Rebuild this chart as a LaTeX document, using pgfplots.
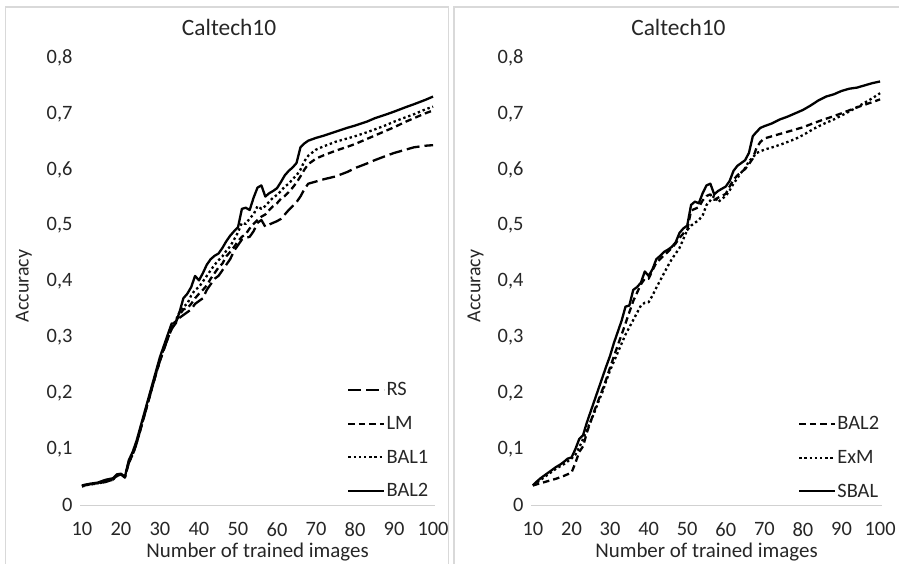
\documentclass[border=0pt]{standalone}
\usepackage{fontspec}
\setmainfont{Carlito}
\usepackage{pgfplots}
\pgfplotsset{compat=1.18}

\pgfplotsset{
  accstyle/.style={
    scale only axis, height=447bp,
    xmin=9.5, xmax=100.5, ymin=0, ymax=0.8,
    axis lines*=left,
    x axis line style={draw=black!18, line width=1bp},
    y axis line style={draw=none},
    major tick length=0pt,
    xtick={10,20,...,100},
    ytick={0,0.1,...,0.8},
    yticklabels={0,{0,1},{0,2},{0,3},{0,4},{0,5},{0,6},{0,7},{0,8}},
    /pgf/number format/assume math mode=true,
    tick label style={font=\fontsize{20.5}{24}\selectfont, text=black!85},
    xticklabel style={yshift=-14bp},
    yticklabel style={xshift=-4bp},
    title={Caltech10},
    title style={font=\fontsize{23.5}{27}\selectfont, text=black!85, anchor=center, at={(0.42,1.056)}},
    xlabel={Number of trained images},
    xlabel style={font=\fontsize{21}{25}\selectfont, text=black!85, anchor=center, at={(0.5,-0.105)}},
    ylabel={Accuracy},
    ylabel style={font=\fontsize{20}{24}\selectfont, text=black!85, anchor=center, at={(-0.158,0.49)}},
    legend style={draw=none, fill=none, font=\fontsize{20.5}{24}\selectfont, text=black!85,
      anchor=north west, row sep=15bp, nodes={inner xsep=1bp}},
    legend cell align=left,
    legend image code/.code={\draw[##1] (0bp,0bp) -- (36bp,0bp);},
    no markers,
    every axis plot/.append style={line width=2.3bp, draw=black, line join=round},
  },
  longdash/.style={dash pattern=on 13bp off 5bp},
  shortdash/.style={dash pattern=on 6.5bp off 4bp},
  dots/.style={dash pattern=on 2.4bp off 2.8bp},
}

\begin{document}
\begin{tikzpicture}
\useasboundingbox (0bp,0bp) rectangle (899bp,564bp);
% panel frames
\draw[black!15, line width=1.2bp] (5.5bp,-20bp) -- (5.5bp,557bp) -- (448.5bp,557bp) -- (448.5bp,-20bp);
\draw[black!15, line width=1.2bp] (454bp,-20bp) -- (454bp,557bp) -- (920bp,557bp);

\begin{axis}[accstyle, width=355bp, at={(80bp,59bp)}, anchor=south west,
  legend style={at={(0.744,0.283)}}]
% RS
\addplot[longdash] coordinates {
(10,.035) (12,.037) (14,.038) (16,.042) (18,.045) (19,.052) (20,.055) (21,.049) (22,.075) (23,.09) (24,.11) (25,.135) (26,.16) (27,.185) (28,.21) (29,.235) (30,.258) (31,.278) (32,.298) (33,.315) (34,.325) (35,.335) (36,.34) (37,.345) (38,.35) (39,.36) (40,.365) (41,.37) (42,.385) (43,.395) (44,.405) (45,.41) (46,.42) (47,.43) (48,.44) (49,.455) (50,.465) (51,.475) (52,.478) (53,.48) (54,.49) (55,.505) (56,.51) (57,.498) (58,.502) (59,.505) (60,.508) (61,.512) (62,.52) (63,.528) (64,.535) (65,.542) (66,.552) (67,.565) (68,.575) (70,.579) (72,.583) (75,.588) (78,.596) (80,.603) (83,.611) (85,.617) (88,.625) (90,.63) (93,.636) (95,.64) (98,.643) (100,.644)};
\addlegendentry{RS}
% LM
\addplot[shortdash] coordinates {
(10,.034) (12,.037) (14,.039) (16,.041) (18,.046) (19,.053) (20,.055) (21,.05) (22,.076) (23,.09) (24,.11) (25,.135) (26,.16) (27,.185) (28,.21) (29,.235) (30,.258) (31,.279) (32,.298) (33,.316) (34,.328) (35,.34) (36,.35) (37,.352) (38,.36) (39,.37) (40,.378) (41,.385) (42,.393) (43,.405) (44,.415) (45,.425) (46,.432) (47,.445) (48,.453) (49,.462) (50,.472) (51,.48) (52,.485) (53,.495) (54,.503) (55,.51) (56,.516) (57,.52) (58,.528) (59,.535) (60,.54) (61,.548) (62,.553) (63,.56) (64,.568) (65,.577) (66,.588) (67,.6) (68,.61) (70,.62) (72,.626) (75,.634) (78,.641) (80,.646) (83,.655) (85,.661) (88,.67) (90,.676) (93,.686) (95,.692) (98,.701) (100,.706)};
\addlegendentry{LM}
% BAL1
\addplot[dots] coordinates {
(10,.033) (12,.037) (14,.039) (16,.043) (18,.046) (19,.053) (20,.055) (21,.05) (22,.077) (23,.092) (24,.112) (25,.137) (26,.162) (27,.187) (28,.212) (29,.237) (30,.26) (31,.28) (32,.3) (33,.318) (34,.33) (35,.345) (36,.355) (37,.36) (38,.375) (39,.385) (40,.39) (41,.4) (42,.41) (43,.42) (44,.43) (45,.438) (46,.445) (47,.455) (48,.463) (49,.475) (50,.488) (51,.505) (52,.503) (53,.513) (54,.52) (55,.535) (56,.53) (57,.535) (58,.543) (59,.55) (60,.555) (61,.562) (62,.57) (63,.575) (64,.583) (65,.59) (66,.6) (67,.615) (68,.625) (70,.636) (72,.642) (75,.65) (78,.656) (80,.66) (83,.667) (85,.672) (88,.68) (90,.686) (93,.694) (95,.699) (98,.708) (100,.713)};
\addlegendentry{BAL1}
% BAL2
\addplot[solid] coordinates {
(10,.035) (12,.038) (14,.04) (16,.045) (18,.048) (19,.055) (20,.056) (21,.05) (22,.08) (23,.095) (24,.115) (25,.14) (26,.165) (27,.19) (28,.215) (29,.24) (30,.265) (31,.285) (32,.305) (33,.325) (34,.325) (35,.345) (36,.37) (37,.378) (38,.39) (39,.41) (40,.402) (41,.415) (42,.43) (43,.44) (44,.446) (45,.45) (46,.46) (47,.472) (48,.482) (49,.49) (50,.497) (51,.53) (52,.532) (53,.528) (54,.55) (55,.568) (56,.572) (57,.552) (58,.558) (59,.562) (60,.567) (61,.578) (62,.59) (63,.598) (64,.604) (65,.612) (66,.64) (67,.647) (68,.652) (70,.657) (72,.661) (75,.668) (78,.675) (80,.679) (83,.686) (85,.692) (88,.699) (90,.704) (93,.712) (95,.717) (98,.725) (100,.731)};
\addlegendentry{BAL2}
\end{axis}

\begin{axis}[accstyle, width=351bp, at={(531bp,59bp)}, anchor=south west,
  legend style={at={(0.752,0.207)}}]
% BAL2
\addplot[shortdash] coordinates {
(10,.035) (12,.039) (14,.043) (16,.047) (18,.052) (19,.055) (20,.058) (21,.075) (22,.095) (23,.105) (24,.13) (25,.15) (26,.17) (27,.188) (28,.206) (29,.225) (30,.246) (31,.266) (32,.286) (33,.305) (34,.325) (35,.345) (36,.365) (37,.38) (38,.395) (39,.405) (40,.405) (41,.42) (42,.434) (43,.44) (44,.447) (45,.453) (46,.46) (47,.468) (48,.478) (49,.486) (50,.492) (51,.527) (52,.53) (53,.533) (54,.545) (55,.553) (56,.556) (57,.546) (58,.55) (59,.553) (60,.557) (61,.57) (62,.582) (63,.59) (64,.596) (65,.601) (66,.61) (67,.62) (68,.64) (69,.65) (70,.656) (72,.66) (75,.666) (78,.672) (80,.676) (83,.684) (85,.689) (88,.696) (90,.701) (93,.709) (95,.714) (98,.721) (100,.726)};
\addlegendentry{BAL2}
% ExM
\addplot[dots] coordinates {
(10,.035) (12,.045) (14,.055) (16,.065) (18,.073) (20,.083) (21,.09) (22,.103) (23,.118) (24,.135) (25,.15) (26,.167) (27,.185) (28,.202) (29,.222) (30,.241) (31,.257) (32,.273) (33,.289) (34,.305) (35,.318) (36,.331) (37,.344) (38,.357) (39,.362) (40,.363) (41,.375) (42,.389) (43,.402) (44,.415) (45,.428) (46,.44) (47,.45) (48,.46) (49,.476) (50,.492) (51,.5) (52,.505) (53,.51) (54,.518) (55,.537) (56,.545) (57,.553) (58,.542) (59,.548) (60,.553) (61,.563) (62,.575) (63,.585) (64,.595) (65,.603) (66,.615) (67,.622) (68,.63) (70,.636) (72,.64) (75,.647) (78,.655) (80,.662) (83,.674) (85,.681) (88,.69) (90,.697) (93,.708) (95,.716) (98,.728) (100,.737)};
\addlegendentry{ExM}
% SBAL
\addplot[solid] coordinates {
(10,.035) (11,.042) (12,.048) (13,.053) (14,.058) (15,.063) (16,.068) (17,.072) (18,.077) (19,.083) (20,.085) (21,.1) (22,.118) (23,.125) (24,.148) (25,.168) (26,.188) (27,.208) (28,.228) (29,.248) (30,.267) (31,.29) (32,.31) (33,.33) (34,.355) (35,.357) (36,.385) (37,.39) (38,.398) (39,.418) (40,.41) (41,.422) (42,.44) (43,.446) (44,.453) (45,.457) (46,.462) (47,.47) (48,.487) (49,.495) (50,.5) (51,.537) (52,.543) (53,.54) (54,.558) (55,.572) (56,.575) (57,.556) (58,.562) (59,.566) (60,.57) (61,.58) (62,.598) (63,.607) (64,.612) (65,.617) (66,.63) (67,.66) (68,.668) (69,.675) (70,.678) (72,.683) (74,.69) (76,.695) (78,.701) (80,.707) (82,.715) (84,.724) (86,.731) (88,.735) (90,.741) (92,.745) (94,.747) (96,.751) (98,.755) (100,.758)};
\addlegendentry{SBAL}
\end{axis}
\end{tikzpicture}
\end{document}
